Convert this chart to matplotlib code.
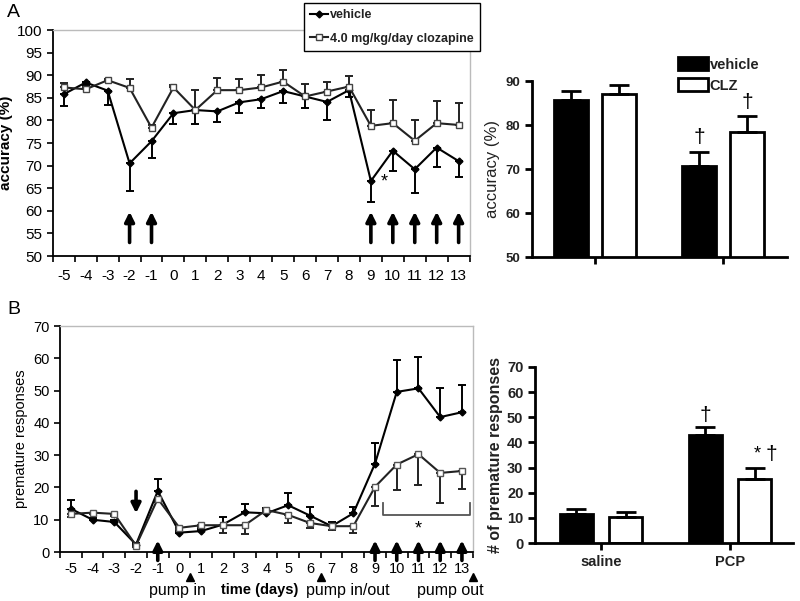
import numpy as np
import matplotlib
matplotlib.use('Agg')
import matplotlib.pyplot as plt
from matplotlib.lines import Line2D

plt.rcParams['font.family'] = ['Liberation Sans', 'DejaVu Sans']
plt.rcParams['axes.unicode_minus'] = False

# ---- data ----
days = list(range(-5, 14))

# panel A: accuracy (%) over days
acc_veh = [85.8, 88.4, 86.6, 70.5, 75.4, 81.6, 82.3, 82.0, 84.0, 84.7, 86.5, 85.3, 84.1, 86.7,
           66.6, 73.3, 69.2, 74.0, 71.0]
acc_veh_err = [2.6, 0.5, 3.2, 6.1, 3.6, 2.4, 3.1, 2.3, 2.4, 2.0, 2.6, 2.6, 4.0, 1.6,
               4.6, 4.4, 5.2, 4.4, 3.6]
acc_clz = [87.3, 86.9, 88.9, 87.2, 78.4, 87.3, 82.3, 86.7, 86.7, 87.3, 88.6, 85.3, 86.4, 87.5,
           78.8, 79.4, 75.5, 79.4, 79.0]
acc_clz_err = [0.9, 0.4, 0.3, 2.0, 0.7, 0.5, 4.4, 2.7, 2.5, 2.7, 2.5, 2.7, 2.0, 2.3,
               3.5, 5.1, 4.6, 5.0, 4.8]
acc_arrow_days = [-2, -1, 9, 10, 11, 12, 13]

# panel B: premature responses over days
pre_veh = [13.4, 10.0, 9.3, 2.3, 18.9, 6.0, 6.5, 8.5, 12.3, 12.0, 14.5, 11.3, 8.0, 12.0,
           27.4, 49.6, 50.7, 41.8, 43.3]
pre_veh_err = [2.6, 0.6, 0.6, 0.4, 3.6, 0.5, 0.6, 2.5, 2.6, 1.5, 3.8, 2.6, 1.3, 2.0,
               6.5, 9.8, 9.7, 9.0, 8.4]
pre_clz = [11.8, 12.2, 11.8, 2.0, 16.5, 7.5, 8.3, 8.3, 8.3, 13.0, 11.5, 9.0, 8.0, 8.0,
           20.2, 27.1, 30.3, 24.5, 25.1]
pre_clz_err = [0.8, 0.5, 0.5, 0.4, 1.0, 0.5, 0.6, 2.3, 2.8, 0.7, 2.5, 1.5, 1.2, 2.0,
               5.9, 7.8, 9.6, 9.2, 5.6]
pre_up_arrow_days = [-1, 9, 10, 11, 12, 13]
pre_down_arrow_days = [-2]
pump_days = [0.5, 6.5, 13.5]
pump_labels = ['pump in', 'pump in/out', 'pump out']
pump_label_x = [-0.1, 7.75, 12.45]

# bar summaries
groups = ['saline', 'PCP']
bar_acc_veh = [85.7, 70.8]
bar_acc_veh_err = [2.1, 3.2]
bar_acc_clz = [87.1, 78.4]
bar_acc_clz_err = [2.1, 3.6]
bar_pre_veh = [11.5, 42.8]
bar_pre_veh_err = [2.0, 3.2]
bar_pre_clz = [10.3, 25.5]
bar_pre_clz_err = [2.0, 4.5]

fig = plt.figure(figsize=(8, 6.01), dpi=100)

def style_line_axes(ax):
  for s in ['top', 'right']:
    ax.spines[s].set_color('#bbbbbb')
    ax.spines[s].set_linewidth(1)
  for s in ['left', 'bottom']:
    ax.spines[s].set_linewidth(1.3)
  ax.set_xlim(-5.5, 13.5)
  ax.set_xticks(days)
  ax.set_xticks(np.arange(-5.5, 14, 1), minor=True)
  ax.tick_params(axis='x', which='major', length=0, pad=9)
  ax.tick_params(axis='x', which='minor', length=4, width=1.2, direction='out')
  ax.tick_params(axis='y', length=4, width=1.2, direction='out')

def draw_arrow(ax, x, y0, y1):
  ax.annotate('', xy=(x, y1), xytext=(x, y0), annotation_clip=False,
              arrowprops=dict(arrowstyle='-|>', lw=2.6, color='k', mutation_scale=14,
                              shrinkA=0, shrinkB=0))

# ---- A: accuracy line chart ----
ax1 = fig.add_axes([0.066, 0.574, 0.521, 0.376])
style_line_axes(ax1)
zero = [0] * len(days)
ax1.errorbar(days, acc_veh, yerr=[acc_veh_err, zero], color='k', lw=1.5, marker='D', ms=3.5,
             capsize=3, elinewidth=1.4, capthick=1.4)
ax1.errorbar(days, acc_clz, yerr=[zero, acc_clz_err], color='#222222', lw=1.5, marker='s', ms=5,
             mfc='white', mec='#444444', capsize=3, elinewidth=1.4, capthick=1.4)
ax1.set_ylim(50, 100)
ax1.set_yticks(range(50, 101, 5))
ax1.tick_params(labelsize=11)
ax1.set_ylabel('accuracy (%)', fontsize=11, fontweight='bold', labelpad=3)
for d in acc_arrow_days:
  draw_arrow(ax1, d, 53, 59.8)
ax1.text(9.6, 66.4, '*', fontsize=13, ha='center', va='center')
handles = [Line2D([], [], color='k', lw=1.5, marker='D', ms=3.5),
           Line2D([], [], color='#222222', lw=1.5, marker='s', ms=5, mfc='white', mec='#444444')]
leg = ax1.legend(handles, ['vehicle', '4.0 mg/kg/day clozapine'], loc='upper left',
                 bbox_to_anchor=(0.38, 0.995), bbox_transform=fig.transFigure,
                 fancybox=False, edgecolor='k', framealpha=1, fontsize=9, handlelength=1.4,
                 handletextpad=0.2, borderpad=0.5, labelspacing=0.9, borderaxespad=0)
leg.get_frame().set_linewidth(1.0)
for t in leg.get_texts():
  t.set_fontweight('bold')
  t.set_color('#222222')
fig.text(0.009, 0.972, 'A', fontsize=14)

# ---- A: accuracy bars ----
ax2 = fig.add_axes([0.665, 0.572, 0.319, 0.293])
x = np.arange(len(groups))
w = 0.266
off = 0.1875
ax2.bar(x - off, bar_acc_veh, w, yerr=[[0, 0], bar_acc_veh_err], color='k', edgecolor='k', lw=2,
        capsize=7, error_kw=dict(elinewidth=2, capthick=2), label='vehicle')
ax2.bar(x + off, bar_acc_clz, w, yerr=[[0, 0], bar_acc_clz_err], color='white', edgecolor='k', lw=2,
        capsize=7, error_kw=dict(elinewidth=2, capthick=2), label='CLZ')
ax2.set_ylim(50, 90)
ax2.set_xlim(-0.49, 1.5)
ax2.set_yticks(range(50, 91, 10))
ax2.set_xticks(x)
ax2.set_xticklabels(['', ''])
for s in ['top', 'right']:
  ax2.spines[s].set_visible(False)
for s in ['left', 'bottom']:
  ax2.spines[s].set_linewidth(2)
ax2.tick_params(axis='both', width=2, length=5, labelsize=9.5)
for t in ax2.get_yticklabels():
  t.set_fontweight('bold')
  t.set_color('#222222')
ax2.set_ylabel('accuracy (%)', fontsize=12, color='#222222', labelpad=4)
ax2.text(1 - off, 75.0, '\u2020', fontsize=15, ha='center', va='bottom')
ax2.text(1 + off, 83.0, '\u2020', fontsize=15, ha='center', va='bottom')
leg2 = ax2.legend(loc='upper left', bbox_to_anchor=(0.848, 0.905), bbox_transform=fig.transFigure,
                  frameon=False, fontsize=10.5, handlelength=2.0, handleheight=1.0,
                  handletextpad=0.15, labelspacing=0.45, borderaxespad=0, borderpad=0)
for t in leg2.get_texts():
  t.set_fontweight('bold')
  t.set_color('#222222')

# ---- B: premature responses line chart ----
ax3 = fig.add_axes([0.075, 0.0815, 0.516, 0.376])
style_line_axes(ax3)
ax3.tick_params(axis='x', which='major', pad=7)
ax3.errorbar(days, pre_veh, yerr=[zero, pre_veh_err], color='k', lw=1.5, marker='D', ms=3.5,
             capsize=3, elinewidth=1.4, capthick=1.4)
ax3.errorbar(days, pre_clz, yerr=[pre_clz_err, zero], color='#222222', lw=1.5, marker='s', ms=5,
             mfc='white', mec='#555555', capsize=3, elinewidth=1.4, capthick=1.4)
ax3.set_ylim(0, 70)
ax3.set_yticks(range(0, 71, 10))
ax3.tick_params(labelsize=10.5)
ax3.set_ylabel('premature responses', fontsize=10.5, labelpad=4)
for d in pre_up_arrow_days:
  draw_arrow(ax3, d, -2.6, 3.6)
for d in pre_down_arrow_days:
  draw_arrow(ax3, d, 18.8, 12.0)
# bracket over days 9-13
ax3.plot([9.35, 9.35, 13.35, 13.35], [15.3, 11.6, 11.6, 15.3], color='#555555', lw=1.3, clip_on=False)
ax3.text(11.0, 7.2, '*', fontsize=13, ha='center', va='center')
for px in pump_days:
  ax3.plot(px, -7.6, marker='^', color='k', ms=6, clip_on=False)
for lx, lab in zip(pump_label_x, pump_labels):
  ax3.text(lx, -11.8, lab, fontsize=11.5, ha='center', va='center')
ax3.text(3.7, -11.8, 'time (days)', fontsize=10.5, fontweight='bold', ha='center', va='center')
fig.text(0.009, 0.478, 'B', fontsize=14)

# ---- B: premature response bars ----
ax4 = fig.add_axes([0.669, 0.0965, 0.3225, 0.293])
w = 0.257
off = 0.19
ax4.bar(x - off, bar_pre_veh, w, yerr=[[0, 0], bar_pre_veh_err], color='k', edgecolor='k', lw=2,
        capsize=7, error_kw=dict(elinewidth=2, capthick=2))
ax4.bar(x + off, bar_pre_clz, w, yerr=[[0, 0], bar_pre_clz_err], color='white', edgecolor='k', lw=2,
        capsize=7, error_kw=dict(elinewidth=2, capthick=2))
ax4.set_ylim(0, 70)
ax4.set_xlim(-0.51, 1.49)
ax4.set_yticks(range(0, 71, 10))
ax4.set_xticks(x)
ax4.set_xticklabels(groups)
for s in ['top', 'right']:
  ax4.spines[s].set_visible(False)
for s in ['left', 'bottom']:
  ax4.spines[s].set_linewidth(2)
ax4.tick_params(axis='both', width=2, length=5, labelsize=10.5)
for t in ax4.get_yticklabels() + ax4.get_xticklabels():
  t.set_fontweight('bold')
  t.set_color('#222222')
ax4.set_ylabel('# of premature responses', fontsize=11.5, fontweight='bold', color='#222222', labelpad=3)
ax4.text(1 - off, 47.0, '\u2020', fontsize=15, ha='center', va='bottom')
ax4.text(1 + off + 0.02, 32.0, '*', fontsize=13, ha='center', va='bottom')
ax4.text(1 + off + 0.13, 31.5, '\u2020', fontsize=15, ha='center', va='bottom')

plt.savefig('out.png', dpi=100)
